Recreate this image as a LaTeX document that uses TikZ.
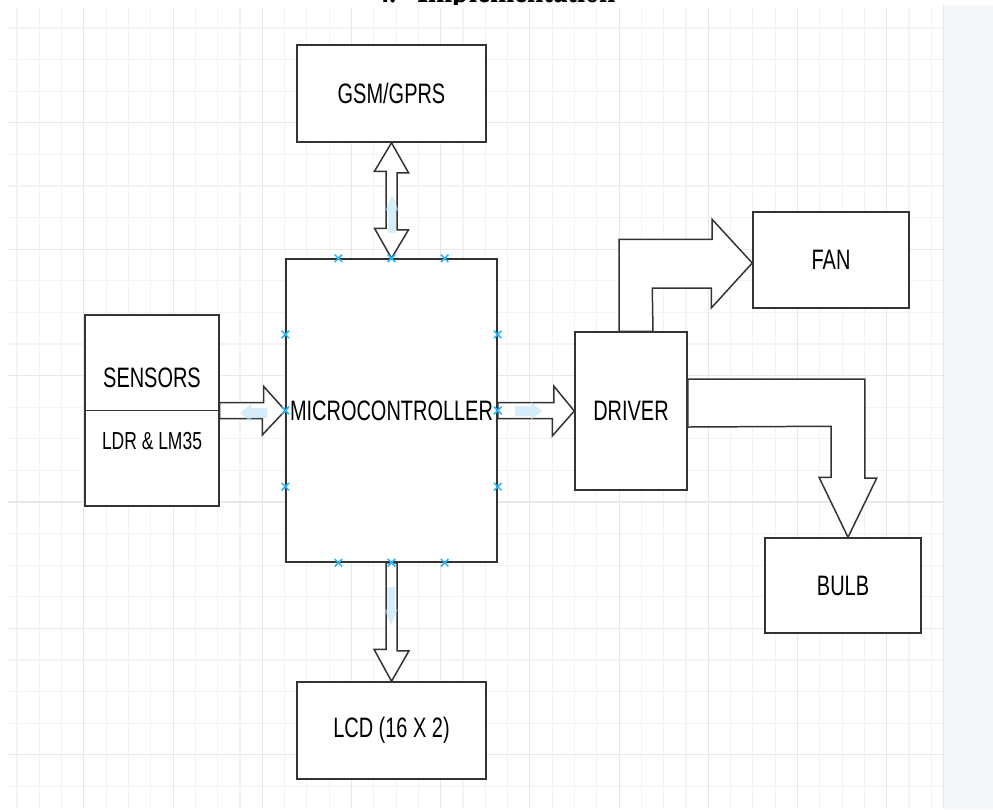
\documentclass[tikz,border=0pt]{standalone}
\usepackage{fontspec}
\usetikzlibrary{calc,shapes.misc}
\newfontfamily\boxfont[FakeStretch=0.71]{Liberation Sans}
\newfontfamily\titlefont[FakeStretch=0.72]{Liberation Serif}
\definecolor{edge}{HTML}{333333}
\definecolor{gridlight}{HTML}{F3F3F3}
\definecolor{griddark}{HTML}{E8E8E8}
\definecolor{panel}{HTML}{F6F7F9}
\definecolor{handle}{HTML}{29B6F2}
\definecolor{hover}{HTML}{B9E3F7}
\newcommand{\pxu}{0.02cm}
\tikzset{
  block/.style={draw=edge, line width=0.85pt, fill=white, inner sep=0pt,
    font=\boxfont\fontsize{16}{19}\selectfont},
  smalltext/.style={inner sep=0pt, font=\boxfont\fontsize{14}{17}\selectfont},
  bigarrow/.style={draw=edge, line width=0.85pt, fill=white, line join=miter},
  handlemark/.style={cross out, draw=handle, line width=0.9pt, minimum size=6*\pxu, inner sep=0pt},
  hoverarrow/.pic={\fill[hover, opacity=0.6] (0,-5) -- (16,-5) -- (16,-9) -- (27,0) -- (16,9) -- (16,5) -- (0,5) -- cycle;}
}

\begin{document}
\begin{tikzpicture}[x=\pxu, y=-\pxu]
    \useasboundingbox (0,0) rectangle (993,809);
    \clip (0,0) rectangle (993,809);

    % Title, cut off at the top
    \node[anchor=base west, inner sep=0pt, font=\titlefont\bfseries\fontsize{23}{26}\selectfont] (num) at (375,2) {4.};
    \node[anchor=base west, inner sep=0pt, font=\titlefont\bfseries\fontsize{23}{26}\selectfont] (title) at (417,2) {Implementation};

    % Canvas and grid
    \fill[white] (0,5) rectangle (943,809);
    \foreach \k in {0,...,41}
        \draw[gridlight, line width=0.6pt] ({17+22.3*\k},8) -- ({17+22.3*\k},809);
    \foreach \k in {0,...,24}
        \draw[gridlight, line width=0.6pt] (8,{28+31.6*\k}) -- (943,{28+31.6*\k});
    \foreach \k in {3,7,...,39}
        \draw[griddark, line width=0.6pt] ({17+22.3*\k},8) -- ({17+22.3*\k},809);
    \foreach \k in {3,7,...,23}
        \draw[griddark, line width=0.6pt] (8,{28+31.6*\k}) -- (943,{28+31.6*\k});
    \fill[panel] (943,5) rectangle (993,809);
    \draw[griddark] (943,5) -- (943,809);

    % Draw nodes
    \node[block, minimum width=189*\pxu, minimum height=97*\pxu] (gsm) at (391.5,93.5) {GSM/GPRS};
    \node[block, minimum width=211*\pxu, minimum height=303*\pxu] (mcu) at (391.5,410.5) {MICROCONTROLLER};
    \node[block, minimum width=134*\pxu, minimum height=191*\pxu] (sensors) at (152,410.5) {};
    \draw[edge, line width=0.85pt] (sensors.west) -- (sensors.east);
    \node[block, draw=none, fill=none] (senslabel) at (152,378) {SENSORS};
    \node[smalltext] (ldrlabel) at (152,441) {LDR \& LM35};
    \node[block, minimum width=189*\pxu, minimum height=97*\pxu] (lcd) at (391.5,730.5) {LCD (16 X 2)};
    \node[block, minimum width=112*\pxu, minimum height=158*\pxu] (driver) at (631,411) {DRIVER};
    \node[block, minimum width=156*\pxu, minimum height=96*\pxu] (fan) at (831,260) {FAN};
    \node[block, minimum width=156*\pxu, minimum height=95*\pxu] (bulb) at (843,585.5) {BULB};

    % Draw connections
    \draw[bigarrow] (gsm.south) -- ++(17,30) -- ++(-11.5,0) -- ++(0,57) -- ++(11.5,0) -- (mcu.north)
        -- ++(-17,-30) -- ++(11.5,0) -- ++(0,-57) -- ++(-11.5,0) -- cycle;
    \draw[bigarrow] ($(mcu.south)+(-5.5,0)$) -- ++(11,0) -- ++(0,88) -- ++(12,0) -- (lcd.north)
        -- ++(-17.5,-32) -- ++(12,0) -- cycle;
    \draw[bigarrow] ($(sensors.east)+(0,-8)$) -- ++(44,0) -- ++(0,-16) -- (mcu.west)
        -- ++(-23,24.5) -- ++(0,-16.5) -- ($(sensors.east)+(0,8)$) -- cycle;
    \draw[bigarrow] ($(mcu.east)+(0,-8)$) -- ++(56,0) -- ++(0,-16.5) -- (driver.west)
        -- ++(-22,25) -- ++(0,-17.5) -- ($(mcu.east)+(0,8)$) -- cycle;
    \draw[bigarrow] ($(driver.north)+(-12,0)$) -- ++(0,-92) -- ++(93,0) -- ++(0,-20) -- ($(fan.west)+(0,3)$)
        -- ++(-41,45) -- ++(0,-20) -- ++(-59,0) -- ($(driver.north)+(22,0)$) -- cycle;
    \draw[bigarrow] ($(driver.east)+(0,-32)$) -- ++(177,0) -- ++(0,99) -- ++(12,0) -- ($(bulb.north)+(5,0)$)
        -- ++(-29,-60) -- ++(12,0) -- ++(0,-51) -- ($(driver.east)+(0,16)$) -- cycle;

    % Hover arrows and handles
    \pic[rotate=180] at (267,413) {hoverarrow};
    \pic at (515,411) {hoverarrow};
    \pic[rotate=90, xscale=1.4, yscale=0.75] at (392,233) {hoverarrow};
    \pic[rotate=-90, xscale=1.4, yscale=0.75] at (391,587) {hoverarrow};
    \foreach \f in {0.25,0.5,0.75} {
        \node[handlemark] at ($(mcu.north west)!\f!(mcu.north east)$) {};
        \node[handlemark] at ($(mcu.south west)!\f!(mcu.south east)$) {};
        \node[handlemark] at ($(mcu.north west)!\f!(mcu.south west)$) {};
        \node[handlemark] at ($(mcu.north east)!\f!(mcu.south east)$) {};
    }
\end{tikzpicture}
\end{document}
